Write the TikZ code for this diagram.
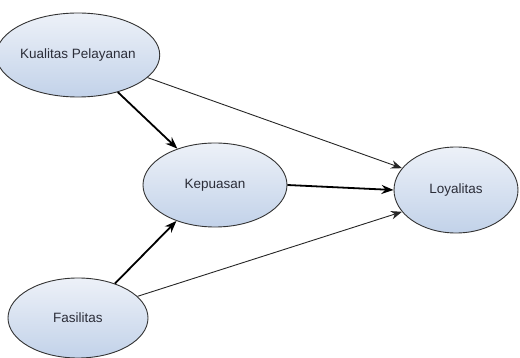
\documentclass[tikz,border=0pt]{standalone}
\usepackage{fontspec}
\setmainfont{Liberation Sans}
\usetikzlibrary{arrows.meta,shapes.geometric,positioning}
\definecolor{elltop}{HTML}{EDF1F8}
\definecolor{ellbot}{HTML}{C2D2E9}
\definecolor{txtdark}{HTML}{2B2D38}

\begin{document}
\begin{tikzpicture}[x=1pt,y=-1pt,
  construct/.style={ellipse, draw=black!80, line width=0.9pt, top color=elltop, bottom color=ellbot,
    inner sep=0pt, text=txtdark, font=\fontsize{13.5}{16}\selectfont},
  strong/.style={-{Stealth[length=12pt,width=9pt]}, line width=1.8pt, black},
  weak/.style={-{Stealth[length=11pt,width=8.5pt]}, line width=0.9pt, black!85}]
\useasboundingbox (0,0) rectangle (520,358);
% Constructs
\node[construct, minimum width=140pt, minimum height=84pt] (kual) at (78,55) {Kualitas Pelayanan};
\node[construct, minimum width=144pt, minimum height=84pt] (kep) at (215,185) {Kepuasan};
\node[construct, minimum width=124pt, minimum height=86pt] (loy) at (456,190) {Loyalitas};
\node[construct, minimum width=140pt, minimum height=80pt] (fas) at (78,318) {Fasilitas};
% Paths to the mediator
\draw[strong] (kual.-43) -- (kep.136);
\draw[strong] (fas.43) -- (kep.223);
\draw[strong] (kep.east) -- (loy.west);
% Direct paths
\draw[weak] (kual.-18) -- (loy.158);
\draw[weak] (fas.20) -- (loy.202);
\end{tikzpicture}
\end{document}
